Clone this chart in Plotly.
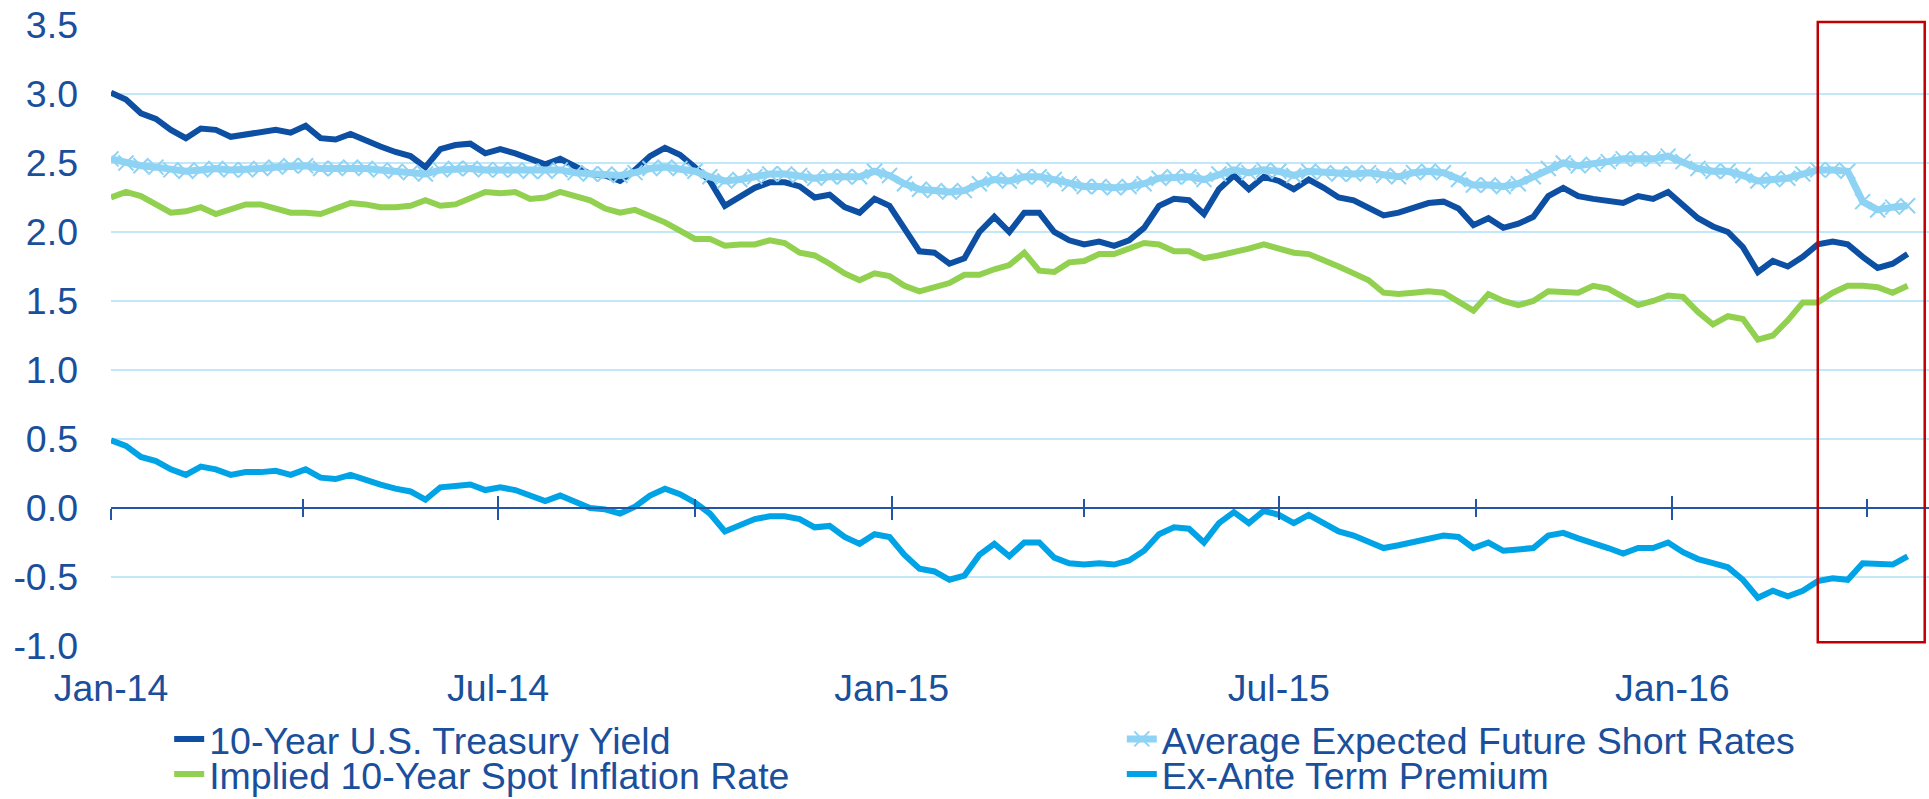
import pandas as pd
import plotly.graph_objects as go

# Weekly observations (Fridays) starting 2014-01-03
start_date = "2014-01-03"
n_weeks = 121
dates = pd.date_range(start_date, periods=n_weeks, freq="7D")

treasury_yield = [
    3.01, 2.96, 2.86, 2.82, 2.74, 2.68, 2.75, 2.74, 2.69, 2.71,
    2.72, 2.74, 2.72, 2.77, 2.68, 2.67, 2.71, 2.66, 2.62, 2.58,
    2.55, 2.47, 2.60, 2.63, 2.64, 2.57, 2.60, 2.57, 2.53, 2.49,
    2.53, 2.47, 2.42, 2.41, 2.37, 2.45, 2.55, 2.61, 2.56, 2.47,
    2.37, 2.19, 2.25, 2.32, 2.36, 2.36, 2.33, 2.25, 2.27, 2.18,
    2.14, 2.24, 2.19, 2.02, 1.86, 1.85, 1.77, 1.81, 2.00, 2.11,
    2.00, 2.14, 2.14, 2.00, 1.94, 1.91, 1.93, 1.90, 1.94, 2.03,
    2.19, 2.24, 2.23, 2.13, 2.31, 2.41, 2.31, 2.40, 2.37, 2.31,
    2.38, 2.32, 2.25, 2.23, 2.18, 2.12, 2.14, 2.18, 2.21, 2.22,
    2.17, 2.05, 2.10, 2.03, 2.06, 2.11, 2.26, 2.32, 2.26, 2.24,
    2.23, 2.21, 2.26, 2.24, 2.29, 2.20, 2.10, 2.04, 2.00, 1.89,
    1.71, 1.79, 1.75, 1.82, 1.91, 1.93, 1.91, 1.82, 1.74, 1.77,
    1.84,
]

expected_short_rates = [
    2.53, 2.50, 2.48, 2.47, 2.45, 2.44, 2.45, 2.46, 2.45, 2.45,
    2.46, 2.47, 2.48, 2.48, 2.46, 2.46, 2.47, 2.46, 2.45, 2.44,
    2.43, 2.42, 2.45, 2.46, 2.46, 2.45, 2.45, 2.45, 2.44, 2.44,
    2.45, 2.43, 2.42, 2.42, 2.41, 2.43, 2.46, 2.47, 2.46, 2.44,
    2.40, 2.37, 2.38, 2.40, 2.42, 2.42, 2.41, 2.39, 2.40, 2.40,
    2.40, 2.44, 2.41, 2.35, 2.31, 2.30, 2.29, 2.30, 2.35, 2.38,
    2.37, 2.40, 2.40, 2.38, 2.35, 2.33, 2.33, 2.32, 2.33, 2.35,
    2.39, 2.40, 2.40, 2.38, 2.42, 2.45, 2.43, 2.45, 2.44, 2.41,
    2.44, 2.43, 2.42, 2.42, 2.43, 2.41, 2.40, 2.43, 2.44, 2.43,
    2.38, 2.34, 2.34, 2.33, 2.35, 2.40, 2.46, 2.50, 2.48, 2.49,
    2.51, 2.53, 2.53, 2.53, 2.55, 2.51, 2.46, 2.44, 2.44, 2.41,
    2.37, 2.38, 2.39, 2.42, 2.45, 2.45, 2.44, 2.22, 2.16, 2.18,
    2.19,
]

implied_inflation = [
    2.25, 2.29, 2.26, 2.20, 2.14, 2.15, 2.18, 2.13, 2.16, 2.20,
    2.20, 2.17, 2.14, 2.14, 2.13, 2.17, 2.21, 2.20, 2.18, 2.18,
    2.19, 2.23, 2.19, 2.20, 2.24, 2.29, 2.28, 2.29, 2.24, 2.25,
    2.29, 2.26, 2.23, 2.17, 2.14, 2.16, 2.12, 2.07, 2.01, 1.95,
    1.95, 1.90, 1.91, 1.91, 1.94, 1.92, 1.85, 1.83, 1.77, 1.70,
    1.65, 1.70, 1.68, 1.61, 1.57, 1.60, 1.63, 1.69, 1.69, 1.73,
    1.76, 1.85, 1.72, 1.71, 1.78, 1.79, 1.84, 1.84, 1.88, 1.92,
    1.91, 1.86, 1.86, 1.81, 1.83, 1.85, 1.88, 1.91, 1.88, 1.85,
    1.84, 1.80, 1.75, 1.70, 1.65, 1.56, 1.55, 1.56, 1.57, 1.56,
    1.50, 1.43, 1.55, 1.50, 1.47, 1.50, 1.57, 1.56, 1.56, 1.61,
    1.59, 1.53, 1.47, 1.50, 1.54, 1.53, 1.42, 1.33, 1.39, 1.37,
    1.22, 1.25, 1.36, 1.49, 1.49, 1.56, 1.61, 1.61, 1.60, 1.56,
    1.61,
]

term_premium = [
    0.49, 0.45, 0.37, 0.34, 0.28, 0.24, 0.30, 0.28, 0.24, 0.26,
    0.26, 0.27, 0.24, 0.28, 0.22, 0.21, 0.24, 0.20, 0.17, 0.14,
    0.12, 0.06, 0.15, 0.16, 0.17, 0.13, 0.15, 0.13, 0.09, 0.05,
    0.09, 0.04, 0.00, -0.01, -0.04, 0.01, 0.09, 0.14, 0.10, 0.04,
    -0.04, -0.17, -0.13, -0.08, -0.06, -0.06, -0.08, -0.14, -0.13, -0.21,
    -0.26, -0.19, -0.21, -0.34, -0.44, -0.46, -0.52, -0.49, -0.34, -0.26,
    -0.35, -0.25, -0.25, -0.36, -0.40, -0.41, -0.40, -0.41, -0.38, -0.31,
    -0.19, -0.14, -0.15, -0.25, -0.11, -0.03, -0.11, -0.02, -0.05, -0.11,
    -0.05, -0.11, -0.17, -0.20, -0.24, -0.29, -0.27, -0.25, -0.22, -0.20,
    -0.21, -0.29, -0.25, -0.31, -0.30, -0.29, -0.20, -0.18, -0.22, -0.25,
    -0.29, -0.33, -0.29, -0.29, -0.25, -0.32, -0.37, -0.40, -0.43, -0.52,
    -0.65, -0.60, -0.64, -0.60, -0.53, -0.51, -0.52, -0.40, -0.41, -0.41,
    -0.35,
]

series_names = [
    "10-Year U.S. Treasury Yield",
    "Average Expected Future Short Rates",
    "Implied 10-Year Spot Inflation Rate",
    "Ex-Ante Term Premium",
]

y_tick_values = [-1.0, -0.5, 0.0, 0.5, 1.0, 1.5, 2.0, 2.5, 3.0, 3.5]
y_tick_labels = ["-1.0", "-0.5", "0.0", "0.5", "1.0", "1.5", "2.0", "2.5", "3.0", "3.5"]

x_range = ["2014-01-03", "2016-05-02"]
y_range = [-1.0, 3.5]
highlight_start = "2016-03-11"
highlight_end = "2016-04-30"

TEXT = "#1A4F9C"
AXIS = "#2255A4"
GRID = "#C2E7F8"
FONT = "Liberation Sans, Arial, sans-serif"
FS = 37.5

fig = go.Figure()

fig.add_trace(go.Scatter(
    x=dates, y=implied_inflation, name=series_names[2], mode="lines",
    line=dict(color="#92D050", width=6), legend="legend3"))
fig.add_trace(go.Scatter(
    x=dates, y=term_premium, name=series_names[3], mode="lines",
    line=dict(color="#00A3E6", width=6), legend="legend4"))
fig.add_trace(go.Scatter(
    x=dates, y=treasury_yield, name=series_names[0], mode="lines",
    line=dict(color="#0D4FA2", width=6), legend="legend"))
fig.add_trace(go.Scatter(
    x=dates, y=expected_short_rates, name=series_names[1], mode="lines+markers",
    line=dict(color="#8ED3F4", width=7),
    marker=dict(symbol="x-thin-open", size=15, color="#8ED3F4",
                line=dict(color="#8ED3F4", width=2)),
    legend="legend2"))

# empty traces to register the helper axes (zero-crossing axis with ticks)
fig.add_trace(go.Scatter(x=[], y=[], xaxis="x2", showlegend=False, hoverinfo="skip"))
fig.add_trace(go.Scatter(x=[], y=[], xaxis="x3", showlegend=False, hoverinfo="skip"))

zero_pos = (0 - y_range[0]) / (y_range[1] - y_range[0])

tick_axis_common = dict(
    type="date", range=x_range, overlaying="x", anchor="free",
    position=zero_pos, side="bottom", showgrid=False, zeroline=False,
    showticklabels=False, showline=True, linecolor=AXIS, linewidth=2,
    tick0=start_date, dtick="M6", ticklen=11, tickwidth=2, tickcolor=AXIS,
    automargin=False,
)

leg_common = dict(
    orientation="v", xanchor="left", yanchor="middle",
    font=dict(family=FONT, size=FS, color=TEXT),
    bgcolor="rgba(0,0,0,0)", itemwidth=30, borderwidth=0,
)
col1_x, col2_x = 0.032, 0.556
row1_y, row2_y = -0.1498, -0.2062

fig.update_layout(
    width=1929, height=799,
    template="none",
    paper_bgcolor="white", plot_bgcolor="white",
    margin=dict(l=111, r=0, t=25, b=153, autoexpand=False),
    font=dict(family=FONT, size=FS, color=TEXT),
    showlegend=True,
    legend=dict(**leg_common, x=col1_x, y=row1_y),
    legend2=dict(**leg_common, x=col2_x, y=row1_y),
    legend3=dict(**leg_common, x=col1_x, y=row2_y),
    legend4=dict(**leg_common, x=col2_x, y=row2_y),
    xaxis=dict(
        type="date", range=x_range, tick0=start_date, dtick="M6",
        tickformat="%b-%y", ticks="", showgrid=False, zeroline=False,
        showline=False, ticklabelstandoff=16, automargin=False,
        ticklabeloverflow="allow",
        tickfont=dict(family=FONT, size=FS, color=TEXT),
    ),
    xaxis2=dict(**tick_axis_common, ticks="outside",
                minor=dict(dtick="M3", tick0=start_date, ticks="outside",
                           ticklen=8, tickwidth=2, tickcolor=AXIS)),
    xaxis3=dict(**tick_axis_common, ticks="inside",
                minor=dict(dtick="M3", tick0=start_date, ticks="inside",
                           ticklen=8, tickwidth=2, tickcolor=AXIS)),
    yaxis=dict(
        range=y_range, tickmode="array",
        tickvals=y_tick_values, ticktext=y_tick_labels,
        showgrid=True, gridcolor=GRID, gridwidth=1.5,
        zeroline=False, showline=False, ticks="",
        ticklabelstandoff=32, automargin=False,
        ticklabeloverflow="allow",
        tickfont=dict(family=FONT, size=FS, color=TEXT),
    ),
    shapes=[dict(
        type="rect", xref="x", yref="paper",
        x0=highlight_start, x1=highlight_end, y0=0.006, y1=1.005,
        line=dict(color="#C00000", width=2.5), fillcolor="rgba(0,0,0,0)",
        layer="above",
    )],
)

# remove the default page margin so the figure fills the window exactly
fig.write_html(
    "out.html",
    config={"displayModeBar": False},
    post_script="document.body.style.margin='0';document.body.style.overflow='hidden';",
)
